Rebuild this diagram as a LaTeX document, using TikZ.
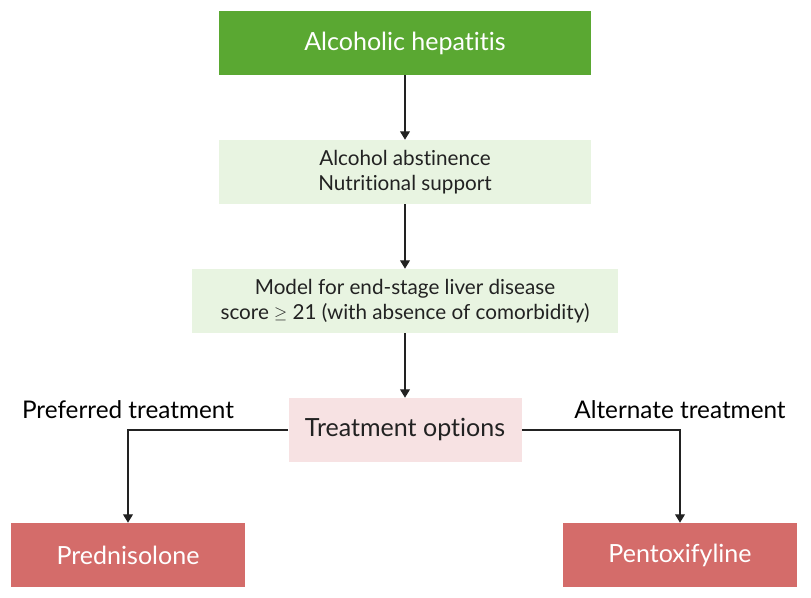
\documentclass[tikz,border=0pt]{standalone}
\usepackage{fontspec}
\setmainfont{Lato}[Ligatures=NoCommon]
\usepackage{tikz}
\usetikzlibrary{arrows.meta,positioning,calc}

\definecolor{hepgreen}{RGB}{90,168,50}
\definecolor{palegreen}{RGB}{232,244,225}
\definecolor{palepink}{RGB}{247,226,227}
\definecolor{drugred}{RGB}{212,108,106}
\definecolor{txtgray}{RGB}{34,34,34}

\begin{document}
\begin{tikzpicture}[
    box/.style={minimum width=9.3cm, minimum height=1.6cm, align=center, inner sep=0pt},
    big/.style={font=\fontsize{17.8}{20}\selectfont},
    small/.style={font=\fontsize{14.7}{17.5}\selectfont, text=txtgray},
    arr/.style={-{Triangle[length=6pt,width=7pt]}, line width=1pt, draw=txtgray},
    lbl/.style={font=\fontsize{17.3}{20}\selectfont, inner sep=0pt}
]
\useasboundingbox (0,0) rectangle (20.275,-14.925);
\node[box, big, fill=hepgreen, text=white] (hep) at (10.125,-1.075) {Alcoholic hepatitis};
\node[box, small, fill=palegreen] (supp) at (10.125,-4.3) {Alcohol abstinence\\Nutritional support};
\node[box, small, fill=palegreen, minimum width=10.65cm] (meld) at (10.125,-7.525) {Model for end-stage liver disease\\score \raisebox{0.5pt}{\fontsize{12}{12}\selectfont $\geq$} 21 (with absence of comorbidity)};
\node[box, big, fill=palepink, text=txtgray, minimum width=5.825cm] (opts) at (10.125,-10.75) {Treatment options};
\node[box, big, fill=drugred, text=white, minimum width=5.85cm] (pred) at (3.2,-13.875) {Prednisolone};
\node[box, big, fill=drugred, text=white, minimum width=5.85cm] (pent) at (17.0,-13.875) {Pentoxifyline};

\coordinate (lc) at (pred.north |- opts.west);
\coordinate (rc) at (pent.north |- opts.east);
\node[lbl, above=0.28cm] (pref) at (lc) {Preferred treatment};
\node[lbl, above=0.28cm] (alt) at (rc) {Alternate treatment};

\draw[arr] (hep) -- (supp);
\draw[arr] (supp) -- (meld);
\draw[arr] (meld) -- (opts);
\draw[arr] (opts.west) -| (pred.north);
\draw[arr] (opts.east) -| (pent.north);
\end{tikzpicture}
\end{document}
